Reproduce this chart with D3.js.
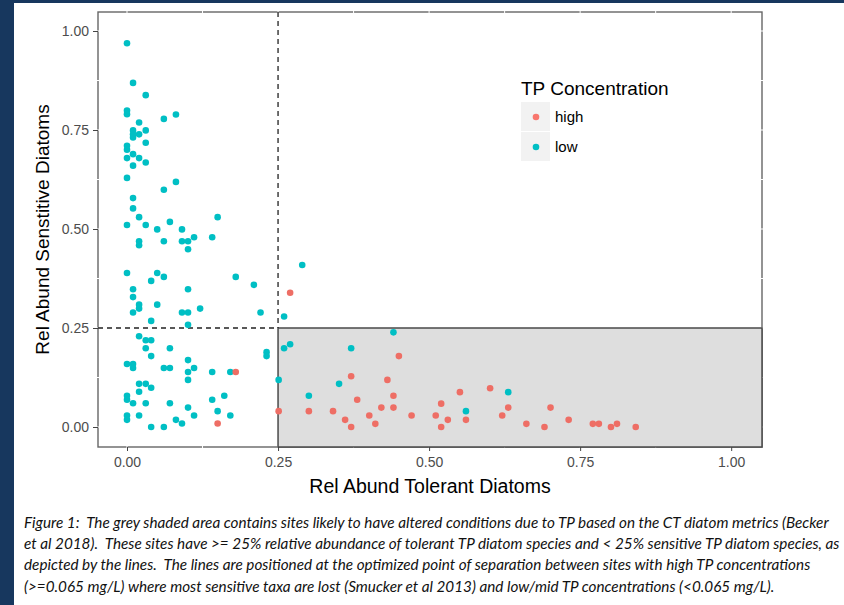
<!DOCTYPE html>
<html>
<head>
<meta charset="utf-8">
<script src="https://cdn.jsdelivr.net/npm/d3@7"></script>
<style>
  body { margin: 0; background: #fff; }
  svg { display: block; }
  .caption text { white-space: pre; }
</style>
</head>
<body>
<div id="chart"></div>
<script>
// data: [tolerant, sensitive]
var high_points = [
    [0.270, 0.339], [0.180, 0.139], [0.150, 0.009], [0.251, 0.040], [0.301, 0.040],
    [0.341, 0.040], [0.371, 0.128], [0.361, 0.018], [0.371, 0.000], [0.381, 0.069],
    [0.401, 0.029], [0.411, 0.008], [0.421, 0.049], [0.431, 0.119], [0.450, 0.179],
    [0.441, 0.079], [0.441, 0.049], [0.471, 0.029], [0.511, 0.029], [0.520, 0.059],
    [0.520, 0.000], [0.531, 0.018], [0.551, 0.088], [0.561, 0.018], [0.601, 0.098],
    [0.631, 0.049], [0.621, 0.029], [0.661, 0.008], [0.691, 0.000], [0.701, 0.049],
    [0.731, 0.018], [0.771, 0.008], [0.781, 0.008], [0.801, 0.000], [0.811, 0.008],
    [0.842, 0.000]
];

var low_points = [
    // upper left cluster
    [0.000, 0.969], [0.010, 0.869], [0.031, 0.838], [0.000, 0.799], [0.000, 0.790],
    [0.061, 0.778], [0.081, 0.789], [0.020, 0.769], [0.010, 0.749], [0.010, 0.739],
    [0.010, 0.731], [0.020, 0.739], [0.031, 0.749], [0.000, 0.710], [0.000, 0.700],
    [0.031, 0.718], [0.010, 0.689], [0.000, 0.679], [0.020, 0.679], [0.031, 0.668],
    [0.010, 0.660], [0.000, 0.629], [0.081, 0.619], [0.061, 0.599], [0.010, 0.578],
    [0.010, 0.552], [0.020, 0.530], [0.000, 0.510], [0.031, 0.510], [0.050, 0.499],
    [0.071, 0.518], [0.091, 0.499], [0.150, 0.530], [0.141, 0.479], [0.111, 0.479],
    [0.091, 0.469], [0.101, 0.469], [0.101, 0.449], [0.061, 0.469], [0.020, 0.469],
    [0.020, 0.459], [0.000, 0.389], [0.050, 0.389], [0.061, 0.379], [0.040, 0.369],
    [0.010, 0.348], [0.010, 0.328], [0.101, 0.348], [0.180, 0.379], [0.210, 0.359],
    [0.290, 0.409], [0.020, 0.309], [0.020, 0.299], [0.010, 0.289], [0.050, 0.309],
    [0.121, 0.299], [0.091, 0.289], [0.101, 0.289], [0.040, 0.268], [0.101, 0.258],
    [0.221, 0.289], [0.260, 0.279],
    // lower left cluster
    [0.020, 0.229], [0.031, 0.219], [0.040, 0.219], [0.031, 0.199], [0.071, 0.199],
    [0.040, 0.179], [0.231, 0.189], [0.231, 0.179], [0.260, 0.199], [0.270, 0.209],
    [0.000, 0.159], [0.010, 0.159], [0.010, 0.149], [0.101, 0.169], [0.061, 0.149],
    [0.071, 0.149], [0.101, 0.139], [0.111, 0.149], [0.141, 0.139], [0.171, 0.139],
    [0.101, 0.119], [0.020, 0.109], [0.031, 0.109], [0.040, 0.099], [0.020, 0.089],
    [0.251, 0.119], [0.000, 0.079], [0.000, 0.069], [0.010, 0.060], [0.031, 0.060],
    [0.071, 0.060], [0.141, 0.069], [0.161, 0.079], [0.101, 0.049], [0.111, 0.029],
    [0.150, 0.040], [0.171, 0.029], [0.000, 0.029], [0.000, 0.018], [0.020, 0.029],
    [0.081, 0.018], [0.091, 0.009], [0.040, 0.000], [0.061, 0.000],
    // inside the shaded area
    [0.301, 0.079], [0.351, 0.109], [0.371, 0.199], [0.441, 0.239], [0.561, 0.040],
    [0.631, 0.088]
];

var x_ticks = [0, 0.25, 0.5, 0.75, 1.0];
var y_ticks = [0, 0.25, 0.5, 0.75, 1.0];
var minor_ticks = [0.125, 0.375, 0.625, 0.875];
var cutoff = 0.25;

var legend_labels = ["high", "low"];
var legend_colors = ["#F8766D", "#00BFC4"];

var caption_lines = [
    "Figure 1:  The grey shaded area contains sites likely to have altered conditions due to TP based on the CT diatom metrics (Becker",
    "et al 2018).  These sites have >= 25% relative abundance of tolerant TP diatom species and < 25% sensitive TP diatom species, as",
    "depicted by the lines.  The lines are positioned at the optimized point of separation between sites with high TP concentrations",
    "(>=0.065 mg/L) where most sensitive taxa are lost (Smucker et al 2013) and low/mid TP concentrations (<0.065 mg/L)."
];

// layout
var W = 844, H = 605;
var panel = { left: 98, right: 762, top: 12, bottom: 447 };
var font = "'Liberation Sans', Arial, sans-serif";

var svg = d3.select("#chart").append("svg")
    .attr("width", W)
    .attr("height", H);

// navy frame of the slide
svg.append("rect").attr("width", W).attr("height", H).attr("fill", "#fff");
svg.append("rect").attr("x", 0).attr("y", 0).attr("width", W).attr("height", 3).attr("fill", "#17375e");
svg.append("rect").attr("x", 0).attr("y", 0).attr("width", 14).attr("height", H).attr("fill", "#17375e");

var x = d3.scaleLinear().domain([-0.048, 1.051]).range([panel.left, panel.right]);
var y = d3.scaleLinear().domain([-0.0505, 1.048]).range([panel.bottom, panel.top]);

// panel border
svg.append("rect")
    .attr("x", panel.left).attr("y", panel.top)
    .attr("width", panel.right - panel.left)
    .attr("height", panel.bottom - panel.top)
    .attr("fill", "none")
    .attr("stroke", "#666")
    .attr("stroke-width", 1.4);

// white grid lines (they nick the border like in the original)
var grid = svg.append("g").attr("stroke", "#fff").attr("stroke-width", 1);
grid.selectAll("line.gx")
    .data(x_ticks.concat(minor_ticks))
    .enter().append("line")
    .attr("x1", function(d) { return x(d); })
    .attr("x2", function(d) { return x(d); })
    .attr("y1", panel.top - 1).attr("y2", panel.bottom + 1);
grid.selectAll("line.gy")
    .data(y_ticks.concat(minor_ticks))
    .enter().append("line")
    .attr("y1", function(d) { return y(d); })
    .attr("y2", function(d) { return y(d); })
    .attr("x1", panel.left - 1).attr("x2", panel.right + 1);

// grey shaded area: tolerant >= 0.25, sensitive < 0.25
svg.append("rect")
    .attr("x", x(cutoff))
    .attr("y", y(cutoff))
    .attr("width", panel.right - x(cutoff))
    .attr("height", panel.bottom - y(cutoff))
    .attr("fill", "#dedede")
    .attr("stroke", "#4a4a4a")
    .attr("stroke-width", 1.5);

// dashed separation lines
svg.append("line")
    .attr("x1", x(cutoff)).attr("x2", x(cutoff))
    .attr("y1", panel.top).attr("y2", y(cutoff))
    .attr("stroke", "#222").attr("stroke-width", 1.3)
    .attr("stroke-dasharray", "5,4");
svg.append("line")
    .attr("x1", panel.left).attr("x2", x(cutoff))
    .attr("y1", y(cutoff)).attr("y2", y(cutoff))
    .attr("stroke", "#222").attr("stroke-width", 1.3)
    .attr("stroke-dasharray", "5,4");

// axes
var fmt = d3.format(".2f");
var x_axis = svg.append("g")
    .attr("transform", "translate(0," + panel.bottom + ")")
    .call(d3.axisBottom(x).tickValues(x_ticks).tickFormat(fmt).tickSize(4).tickPadding(6));
var y_axis = svg.append("g")
    .attr("transform", "translate(" + panel.left + ",0)")
    .call(d3.axisLeft(y).tickValues(y_ticks).tickFormat(fmt).tickSize(5).tickPadding(4));

[x_axis, y_axis].forEach(function(a) {
    a.select(".domain").remove();
    a.selectAll(".tick line").attr("stroke", "#444");
    a.selectAll(".tick text")
        .attr("fill", "#4d4d4d")
        .style("font-family", font)
        .style("font-size", "14px");
});

// points: low first, high on top
svg.append("g").selectAll("circle")
    .data(low_points)
    .enter().append("circle")
    .attr("cx", function(d) { return x(d[0]); })
    .attr("cy", function(d) { return y(d[1]); })
    .attr("r", 3.3)
    .attr("fill", legend_colors[1]);
svg.append("g").selectAll("circle")
    .data(high_points)
    .enter().append("circle")
    .attr("cx", function(d) { return x(d[0]); })
    .attr("cy", function(d) { return y(d[1]); })
    .attr("r", 3.3)
    .attr("fill", "#ee6e65");

// axis titles
svg.append("text")
    .attr("x", (panel.left + panel.right) / 2)
    .attr("y", 493)
    .attr("text-anchor", "middle")
    .style("font-family", font)
    .style("font-size", "19.5px")
    .text("Rel Abund Tolerant Diatoms");
svg.append("text")
    .attr("transform", "translate(49," + (panel.top + panel.bottom) / 2 + ") rotate(-90)")
    .attr("text-anchor", "middle")
    .style("font-family", font)
    .style("font-size", "19px")
    .text("Rel Abund Senstitive Diatoms");

// legend
var legend = svg.append("g").attr("transform", "translate(521,0)");
legend.append("text")
    .attr("x", 0).attr("y", 95)
    .style("font-family", font)
    .style("font-size", "19px")
    .text("TP Concentration");
var keys = legend.selectAll("g.key")
    .data(legend_labels)
    .enter().append("g")
    .attr("transform", function(d, i) { return "translate(0," + (102 + i * 30) + ")"; });
keys.append("rect")
    .attr("width", 29).attr("height", 29)
    .attr("fill", "#f2f2f2");
keys.append("circle")
    .attr("cx", 15).attr("cy", 15).attr("r", 3.3)
    .attr("fill", function(d, i) { return legend_colors[i]; });
keys.append("text")
    .attr("x", 34).attr("y", 20)
    .style("font-family", font)
    .style("font-size", "15px")
    .text(function(d) { return d; });

// caption, sized so the first line spans the same width as in the figure
var caption = svg.append("g")
    .attr("class", "caption")
    .style("font-family", "Lato, 'Open Sans', sans-serif")
    .style("font-style", "italic")
    .style("font-size", "14px")
    .attr("fill", "#111");
caption.selectAll("text")
    .data(caption_lines)
    .enter().append("text")
    .attr("x", 24)
    .attr("y", function(d, i) { return 528 + i * 21.2; })
    .text(function(d) { return d; });
var first_len = caption.select("text").node().getComputedTextLength();
caption.style("font-size", (14 * 805 / first_len) + "px");
</script>
</body>
</html>
